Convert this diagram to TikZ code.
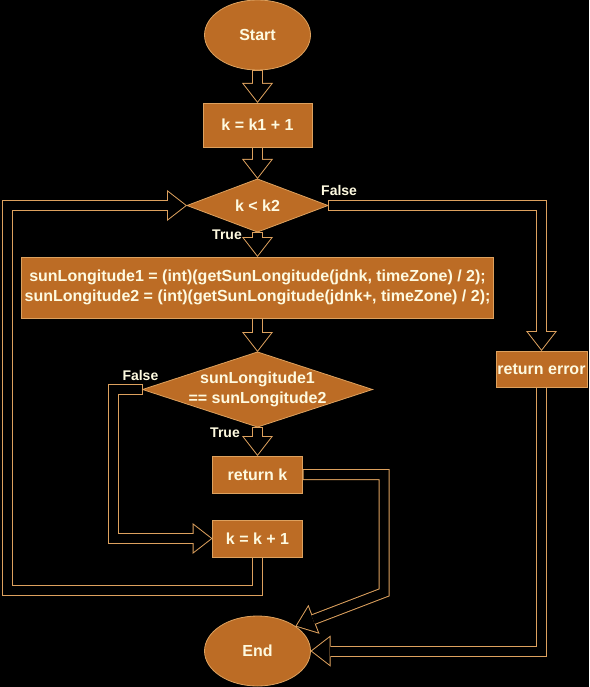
\documentclass[tikz,border=0pt]{standalone}
\usepackage{fontspec}
\setmainfont{Liberation Sans}
\usepackage{tikz}
\usetikzlibrary{shapes.geometric, arrows.meta, positioning, calc}

\definecolor{boxfill}{HTML}{BC6C25}
\definecolor{edge}{HTML}{DDA15E}
\definecolor{ink}{HTML}{FEFAE0}

\begin{document}
\begin{tikzpicture}[
  x=1pt, y=-1pt,
  font=\bfseries\fontsize{16}{20}\selectfont,
  term/.style={draw=edge,line width=0.8pt,ellipse,fill=boxfill,text=ink,minimum width=106pt,minimum height=70pt,inner sep=0pt,outer sep=0pt},
  proc/.style={draw=edge,line width=0.8pt,rectangle,fill=boxfill,text=ink,align=center,inner sep=0pt,outer sep=0pt},
  cond/.style={draw=edge,line width=0.8pt,diamond,aspect=3,fill=boxfill,text=ink,align=center,inner sep=0pt,outer sep=0pt},
  lbl/.style={text=ink,font=\bfseries\fontsize{14}{16}\selectfont,inner sep=0pt},
  flow/.style={draw=black,line width=9pt,shorten <=1pt,shorten >=1.6pt,
    -{Triangle[length=17.4pt,width=27pt,line width=0pt,fill=black,color=black]},
    preaction={draw=edge,line width=11pt,shorten <=0pt,shorten >=0pt,
      -{Triangle[length=20pt,width=31pt,line width=0pt,fill=edge,color=edge]}}}]
  \useasboundingbox[fill=black] (0,0) rectangle (589,687);
  \node[term] (start) at (257.5,35) {Start};
  \node[proc,below=33pt of start,minimum width=109pt,minimum height=44pt] (init) {k = k1 + 1};
  \node[cond,below=32pt of init,minimum width=141pt,minimum height=53pt] (loop) {k < k2};
  \node[proc,below=25pt of loop,minimum width=472pt,minimum height=61pt] (calc)
    {sunLongitude1 = (int)(getSunLongitude(jdnk, timeZone) / 2);\\
     sunLongitude2 = (int)(getSunLongitude(jdnk+, timeZone) / 2);};
  \node[cond,below=34pt of calc,minimum width=230pt,minimum height=75pt,aspect=3.1,inner xsep=-15pt] (cmp)
    {sunLongitude1\\== sunLongitude2};
  \node[proc,below=29pt of cmp,minimum width=90pt,minimum height=37pt] (retk) {return k};
  \node[proc,below=27pt of retk,minimum width=90pt,minimum height=37pt] (inc) {k = k + 1};
  \node[term,below=59pt of inc] (end) {End};
  \node[proc,minimum width=91pt,minimum height=36pt] (reterr) at (541.5,369) {return error};

  % branch labels
  \node[lbl,anchor=east] (yes1) at ([xshift=-15.5pt,yshift=-3pt]loop.south) {True};
  \node[lbl,anchor=west] (no1) at ([xshift=-7pt,yshift=15.5pt]loop.east) {False};
  \node[lbl,anchor=east] (no2) at ([xshift=16pt,yshift=14.5pt]cmp.west) {False};
  \node[lbl,anchor=east] (yes2) at ([xshift=-17.5pt,yshift=-6pt]cmp.south) {True};

  \draw[flow] (start) -- (init);
  \draw[flow] (init) -- (loop);
  \draw[flow] (loop) -- (calc);
  \draw[flow] (loop.east) -| (reterr);
  \draw[flow] (calc) -- (cmp);
  \draw[flow] (cmp.west) -- ++(-29,0) |- (inc);
  \draw[flow] (cmp) -- (retk);
  \draw[flow] (inc) -- ++(0,52) -| ([xshift=-179.5pt]loop.west) -- (loop);
  \draw[flow] (retk) -- ++(126.5,0) -- ++(0,118) -- (end.33);
  \draw[flow] (reterr) |- (end);
\end{tikzpicture}
\end{document}
